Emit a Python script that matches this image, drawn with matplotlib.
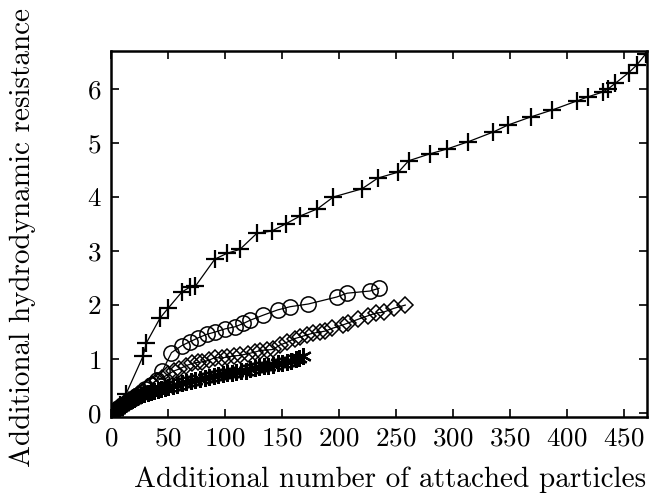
import matplotlib
matplotlib.use("Agg")
import matplotlib.pyplot as plt

plt.rcParams['font.family'] = ['cmr10', 'DejaVu Serif']
plt.rcParams['axes.formatter.use_mathtext'] = True

# series (x = particles, y = resistance)
plus_x = [0, 2, 5, 8, 13, 28, 31, 43, 50, 62, 69, 74, 91, 102, 113, 128, 141,
          153, 166, 181, 195, 220, 234, 252, 261, 280, 295, 313, 335, 348, 368,
          387, 409, 418, 431, 436, 442, 454, 461, 469]
plus_y = [0, 0.03, 0.08, 0.15, 0.35, 1.05, 1.3, 1.76, 1.94, 2.24, 2.33, 2.35,
          2.85, 2.96, 3.03, 3.33, 3.37, 3.5, 3.65, 3.78, 4.0, 4.15, 4.35, 4.46,
          4.67, 4.8, 4.89, 5.02, 5.2, 5.33, 5.48, 5.61, 5.78, 5.85, 5.94, 6.0,
          6.1, 6.3, 6.44, 6.65]

circ_x = [0, 3, 6, 10, 14, 18, 22, 26, 30, 35, 40, 45, 53, 62, 69, 76, 84, 91,
          100, 109, 116, 122, 133, 146, 157, 173, 198, 207, 227, 235]
circ_y = [0, 0.05, 0.1, 0.16, 0.21, 0.27, 0.32, 0.38, 0.44, 0.52, 0.62, 0.78,
          1.12, 1.25, 1.32, 1.39, 1.46, 1.5, 1.56, 1.6, 1.66, 1.72, 1.81, 1.91,
          1.97, 2.02, 2.15, 2.22, 2.26, 2.31]

diam_x = [0, 3, 6, 9, 12, 16, 20, 24, 28, 32, 36, 40, 45, 50, 55, 60, 66, 71,
          76, 80, 86, 91, 97, 102, 108, 113, 120, 126, 131, 137, 142, 148, 154,
          161, 166, 172, 177, 183, 188, 194, 203, 208, 217, 225, 232, 239, 248,
          258]
diam_y = [0, 0.04, 0.09, 0.14, 0.19, 0.25, 0.3, 0.36, 0.42, 0.48, 0.54, 0.6,
          0.65, 0.72, 0.78, 0.82, 0.88, 0.92, 0.94, 0.95, 0.98, 1.03, 1.02,
          1.04, 1.06, 1.07, 1.1, 1.13, 1.16, 1.17, 1.18, 1.26, 1.31, 1.38, 1.41,
          1.45, 1.48, 1.5, 1.52, 1.57, 1.63, 1.67, 1.74, 1.8, 1.85, 1.87, 1.94,
          2.0]

star_x = [0, 2, 4, 6, 8, 10, 12, 14, 16, 18, 20, 23, 26, 29, 32, 35, 38, 41,
          44, 47, 50, 54, 58, 62, 66, 70, 74, 78, 82, 86, 90, 94, 98, 102, 106,
          110, 114, 118, 122, 126, 130, 134, 138, 142, 146, 150, 154, 158, 162,
          165, 168]
star_y = [0, 0.02, 0.05, 0.08, 0.11, 0.14, 0.17, 0.2, 0.22, 0.25, 0.27, 0.3,
          0.33, 0.35, 0.37, 0.39, 0.41, 0.43, 0.45, 0.46, 0.48, 0.5, 0.53, 0.55,
          0.57, 0.6, 0.62, 0.64, 0.66, 0.67, 0.69, 0.7, 0.72, 0.74, 0.75, 0.76,
          0.78, 0.79, 0.81, 0.83, 0.85, 0.87, 0.88, 0.9, 0.92, 0.93, 0.95, 0.96,
          1.0, 1.02, 1.05]

fig = plt.figure(figsize=(6.7, 5), dpi=100)
ax = fig.add_axes([0.1657, 0.166, 0.80, 0.732])

kw = dict(color='black', lw=0.9, mfc='none', mec='black')
ax.plot(star_x, star_y, marker=(6, 2, 0), ms=12, mew=1.6, **kw)
ax.plot(diam_x, diam_y, marker='D', ms=8.5, mew=1.1, **kw)
ax.plot(circ_x, circ_y, marker='o', ms=11, mew=1.1, **kw)
ax.plot(plus_x, plus_y, marker='+', ms=13, mew=1.6, **kw)

ax.set_xlim(0, 470)
ax.set_ylim(-0.07, 6.7)
ax.set_xticks(range(0, 451, 50))
ax.set_yticks(range(0, 7))
ax.tick_params(direction='in', top=True, right=True, length=6, width=1.2,
               labelsize=19.5, pad=7)
for s in ax.spines.values():
    s.set_linewidth(1.8)

ax.set_xlabel('Additional number of attached particles', fontsize=21)
ax.set_ylabel('Additional hydrodynamic resistance', fontsize=21)
ax.xaxis.set_label_coords(0.52, -0.135)
ax.yaxis.set_label_coords(-0.14, 0.49)

fig.savefig('out.png', dpi=100)
